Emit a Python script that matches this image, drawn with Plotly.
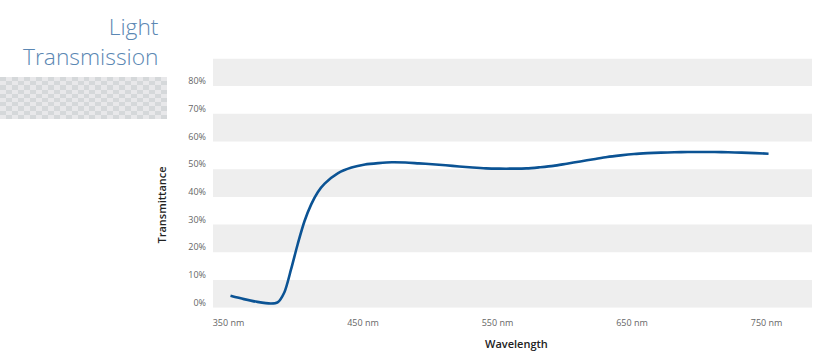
import plotly.graph_objects as go

# ---- data ----
wavelength_nm = [350, 360, 370, 380, 385, 390, 395, 400, 405, 410, 415, 420, 430, 440,
                 450, 460, 470, 480, 490, 500, 510, 520, 530, 540, 550, 560, 570, 580,
                 590, 600, 610, 620, 630, 640, 650, 660, 670, 680, 690, 700, 710, 720,
                 730, 740, 750]
transmittance_pct = [4.3, 3.1, 2.1, 1.5, 1.9, 5.5, 13.8, 23.0, 31.2, 37.3, 41.8, 44.8, 48.6, 50.6,
                     51.7, 52.2, 52.5, 52.4, 52.1, 51.8, 51.4, 51.0, 50.6, 50.3, 50.2, 50.2, 50.3, 50.7,
                     51.2, 52.0, 52.8, 53.6, 54.4, 55.0, 55.5, 55.8, 56.0, 56.1, 56.2, 56.2, 56.2, 56.1,
                     56.0, 55.8, 55.6]
x_tick_vals = [350, 450, 550, 650, 750]
x_tick_text = ["350 nm", "450 nm", "550 nm", "650 nm", "750 nm"]
y_tick_vals = [0, 10, 20, 30, 40, 50, 60, 70, 80]
y_tick_text = ["0%", "10%", "20%", "30%", "40%", "50%", "60%", "70%", "80%"]
y_max = 90

W, H = 820, 361
px = lambda v: v / W
py = lambda v: 1 - v / H

fig = go.Figure()

# decorative checker block
rows, cols = 10, 28
z = [[(r + c) % 2 for c in range(cols)] for r in range(rows)]
fig.add_trace(go.Heatmap(z=z, xaxis="x2", yaxis="y2", showscale=False, hoverinfo="skip",
                         colorscale=[[0, "#e8e8ea"], [1, "#d5d8da"]], xgap=0, ygap=0))

fig.add_trace(go.Scatter(x=wavelength_nm, y=transmittance_pct, mode="lines",
                         line=dict(color="#0b5394", width=2.6, shape="spline", smoothing=0.8),
                         hoverinfo="x+y", showlegend=False))

# alternate bands
shapes = []
for i, v in enumerate(list(y_tick_vals) + [y_max]):
    if i % 2 == 0 and v < y_max:
        shapes.append(dict(type="rect", xref="x domain", yref="y", x0=0, x1=1, y0=v, y1=v + 10,
                           fillcolor="#eeeeee", line=dict(width=0), layer="below"))

tick_font = dict(family="Open Sans, sans-serif", size=9, color="#666666")
title_font = dict(family="Open Sans, sans-serif", size=22.8, color="#5b87b3", weight=300)
axis_title_font = dict(family="Open Sans, sans-serif", size=11, color="#222222", weight=600)
fig.update_layout(
    template="none",
    width=W, height=H, margin=dict(l=0, r=0, t=0, b=0, pad=0, autoexpand=False),
    paper_bgcolor="white", plot_bgcolor="white", showlegend=False,
    shapes=shapes,
    xaxis=dict(domain=[px(213), px(812)], range=[337, 782.3], tickvals=x_tick_vals,
               ticktext=x_tick_text, showgrid=False, zeroline=False, showline=False,
               automargin=False,
               ticks="", tickfont=tick_font, ticklabelstandoff=8, ticklabelshift=-2),
    yaxis=dict(domain=[py(307.7), py(58.4)], range=[0, y_max], tickvals=y_tick_vals,
               ticktext=y_tick_text, showgrid=False, zeroline=False, showline=False,
               automargin=False,
               ticks="", tickfont=tick_font, ticklabelstandoff=6, ticklabelshift=-5),
    xaxis2=dict(domain=[0, px(167)], anchor="y2", visible=False, range=[-0.5, cols - 0.5]),
    yaxis2=dict(domain=[py(119), py(77)], anchor="x2", visible=False, range=[-0.5, rows - 0.5]),
    annotations=[
        dict(text="Light<br>Transmission", x=px(160.5), y=py(41.5), xref="paper", yref="paper",
             xanchor="right", yanchor="middle", align="right", showarrow=False, font=title_font),
        dict(text="Transmittance", x=px(160.5), y=py(205), xref="paper", yref="paper",
             xanchor="center", yanchor="middle", textangle=-90, showarrow=False,
             font=axis_title_font),
        dict(text="Wavelength", x=px(516), y=py(343), xref="paper", yref="paper",
             xanchor="center", yanchor="middle", showarrow=False, font=axis_title_font),
    ],
)

fig.write_html("out.html", config={"displayModeBar": False},
               post_script="document.body.style.margin='0px';")
